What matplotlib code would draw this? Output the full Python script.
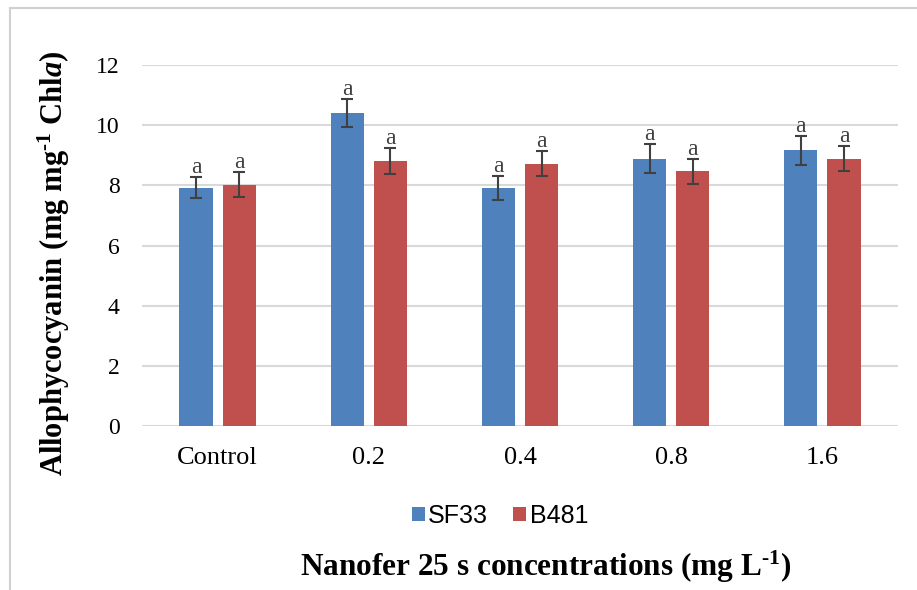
import matplotlib
matplotlib.use("Agg")
import matplotlib.pyplot as plt
import numpy as np
from matplotlib.lines import Line2D

plt.rcParams["mathtext.fontset"] = "custom"
plt.rcParams["mathtext.rm"] = "Liberation Serif:bold"
plt.rcParams["mathtext.it"] = "Liberation Serif:italic:bold"
plt.rcParams["mathtext.bf"] = "Liberation Serif:bold"

categories = ["Control", "0.2", "0.4", "0.8", "1.6"]
series_names = ["SF33", "B481"]
sf33 = [7.92, 10.40, 7.92, 8.89, 9.16]
b481 = [8.02, 8.82, 8.72, 8.46, 8.89]
sf33_err = [0.35, 0.47, 0.40, 0.48, 0.48]
b481_err = [0.42, 0.43, 0.42, 0.40, 0.43]
sf33_letters = ["a", "a", "a", "a", "a"]
b481_letters = ["a", "a", "a", "a", "a"]
yticks = [0, 2, 4, 6, 8, 10, 12]

W, H = 917, 590
fig = plt.figure(figsize=(W / 100, H / 100), dpi=100)
ax = fig.add_axes([142 / W, 1 - 426 / H, (898 - 142) / W, (426 - 65) / H])

serif = "Liberation Serif"
sans = "Liberation Sans"
blue = "#4F81BD"
red = "#C0504D"

x = np.arange(len(categories))
bw = 0.22
off = 0.143
errkw = dict(ecolor="#404040", elinewidth=1.5, capsize=4.5, capthick=1.5)
ax.bar(x - off, sf33, bw, color=blue, yerr=sf33_err, error_kw=errkw, label=series_names[0], zorder=3)
ax.bar(x + off, b481, bw, color=red, yerr=b481_err, error_kw=errkw, label=series_names[1], zorder=3)

for xi, v, e, t in zip(x - off, sf33, sf33_err, sf33_letters):
    ax.text(xi, v + e - 0.03, t, ha="center", va="bottom", fontsize=17, family=serif, color="#404040", zorder=4)
for xi, v, e, t in zip(x + off, b481, b481_err, b481_letters):
    ax.text(xi, v + e - 0.03, t, ha="center", va="bottom", fontsize=17, family=serif, color="#404040", zorder=4)

ax.set_xlim(-0.5, len(categories) - 0.5)
ax.set_ylim(0, 12)
ax.set_yticks(yticks)
ax.set_yticklabels([str(t) for t in yticks], family=serif, fontsize=17)
ax.set_xticks(x)
ax.set_xticklabels(categories, family=serif, fontsize=19)
ax.tick_params(length=0)
ax.tick_params(axis="x", pad=15)
ax.tick_params(axis="y", pad=16)
ax.grid(axis="y", color="#d9d9d9", linewidth=1.5, zorder=0)
for s in ax.spines.values():
    s.set_visible(False)

fig.text(54 / W, 1 - 263 / H, "Allophycocyanin (mg mg$^{\\text{-}1}$ Chl$\\mathit{a}$)", rotation=90,
         ha="center", va="center", family=serif, fontsize=22, fontweight="bold")
fig.text(546 / W, 1 - 567 / H, "Nanofer 25 s concentrations (mg L$^{\\text{-}1}$)",
         ha="center", va="center", family=serif, fontsize=22.5, fontweight="bold")

leg = fig.legend(loc="center", bbox_to_anchor=(500 / W, 1 - 516 / H), ncol=2, frameon=False,
                 prop={"family": sans, "size": 18}, handlelength=0.5, handleheight=0.5,
                 handletextpad=0.15, columnspacing=1.0)

fig.add_artist(Line2D([10 / W, 10 / W], [0, 1 - 8 / H], transform=fig.transFigure,
                      color="#d0d0d0", linewidth=1.5))
fig.add_artist(Line2D([10 / W, 1], [1 - 8 / H, 1 - 8 / H], transform=fig.transFigure,
                      color="#d0d0d0", linewidth=1.5))

fig.savefig("out.png", dpi=100)
